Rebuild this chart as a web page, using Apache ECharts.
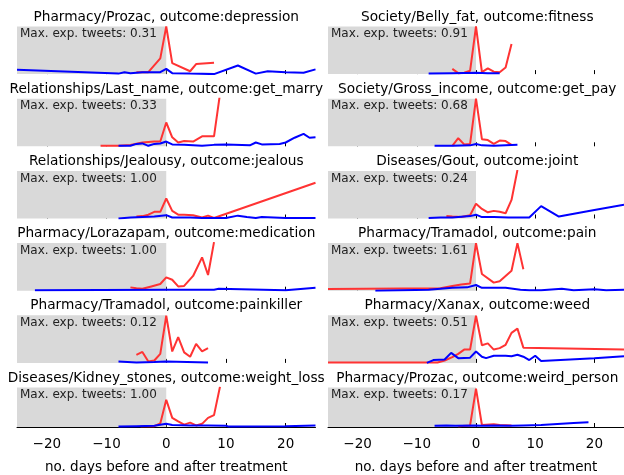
<!DOCTYPE html>
<html>
<head>
<meta charset="utf-8">
<script src="https://cdn.jsdelivr.net/npm/echarts@6/dist/echarts.min.js"></script>
<style>html,body{margin:0;padding:0;background:#fff;}#c{width:624px;height:475px;}</style>
</head>
<body>
<div id="c"></div>
<script>
// ---- data (y = fraction of each panel's max expected tweets) ----
const titles = [
  'Pharmacy/Prozac, outcome:depression', 'Society/Belly_fat, outcome:fitness',
  'Relationships/Last_name, outcome:get_marry', 'Society/Gross_income, outcome:get_pay',
  'Relationships/Jealousy, outcome:jealous', 'Diseases/Gout, outcome:joint',
  'Pharmacy/Lorazapam, outcome:medication', 'Pharmacy/Tramadol, outcome:pain',
  'Pharmacy/Tramadol, outcome:painkiller', 'Pharmacy/Xanax, outcome:weed',
  'Diseases/Kidney_stones, outcome:weight_loss', 'Pharmacy/Prozac, outcome:weird_person'
];
const maxExp = ['0.31','0.91','0.33','0.68','1.00','0.24','1.00','1.61','0.12','0.51','1.00','0.17'];
const xTicks = [-20, -10, 0, 10, 20];
const shadeRange = [-25, 0];

const depressionRed = [[-5,0.04],[-3,0.04],[-1,0.33],[0,1.0],[1,0.23],[4,0.06],[5,0.21],[8,0.24]];
const depressionBlue = [[-25,0.09],[-8,0.01],[-7,0.04],[-6,0.02],[-4,0.04],[-1,0.04],[0,0.11],[1,0.02],[4,0.01],[8,0.0],[12,0.18],[15,0.01],[17,0.06],[20,0.04],[23,0.03],[25,0.1]];
const fitnessRed = [[-4,0.11],[-3,0.02],[-2,0.03],[-1,0.07],[0,1.0],[1,0.04],[2,0.12],[3,0.05],[4,0.04],[5,0.14],[6,0.63]];
const fitnessBlue = [[-8,0.01],[-4,0.02],[0,0.03],[2,0.02],[4,0.02]];
const marryRed = [[-11,0.01],[-8,0.01],[-6,0.03],[-4,0.08],[-2,0.1],[-1,0.1],[0,0.5],[1,0.19],[2,0.08],[3,0.11],[4.5,0.1],[6,0.21],[8,0.21],[9,1.1]];
const marryBlue = [[-8,0.01],[-6,0.01],[-5,0.05],[-4,0.06],[-3,0.01],[-2,0.05],[-1,0.06],[0,0.1],[1,0.04],[3,0.03],[6,0.01],[8,0.03],[10,0.04],[14,0.02],[15,0.08],[16,0.04],[19,0.05],[20,0.08],[21.5,0.18],[23,0.26],[24,0.18],[25,0.19]];
const payRed = [[-4,0.01],[-3,0.17],[-2,0.04],[-1,0.05],[0,1.0],[1,0.15],[2,0.13],[3,0.05],[4,0.12],[5,0.11],[6,0.03]];
const payBlue = [[-7,0.01],[-4,0.01],[-1,0.02],[0,0.05],[1,0.02],[3,0.01],[5,0.02],[7,0.03]];
const jealousRed = [[-5,0.04],[-4,0.05],[-3,0.08],[-2,0.14],[-1,0.14],[0,0.42],[1,0.16],[2,0.08],[3,0.08],[4.5,0.07],[6,0.02],[7,0.06],[8,0.01],[25,0.75]];
const jealousBlue = [[-8,0.0],[-6,0.02],[-4,0.03],[-2,0.04],[0,0.07],[1,0.02],[4,0.02],[6,0.01],[10,0.01],[12,0.06],[13.5,0.03],[15,0.01],[16,0.03],[20,0.01],[22,0.01],[25,0.01]];
const jointRed = [[-5,0.05],[-4,0.04],[-2.5,0.03],[-1,0.07],[0,0.31],[1,0.2],[2,0.13],[3,0.16],[4,0.14],[5,0.11],[6,0.39],[7,1.02]];
const jointBlue = [[-8,0.01],[-6,0.02],[-4,0.02],[-1,0.05],[0,0.08],[1,0.03],[3,0.03],[5.5,0.02],[9,0.02],[11,0.26],[14,0.04],[20,0.18],[25,0.29]];
const medicationRed = [[-6,0.07],[-5,0.05],[-4,0.04],[-2.5,0.09],[-1,0.14],[0,0.28],[1,0.23],[2,0.09],[3,0.1],[4.5,0.31],[6,0.7],[7,0.33],[8,1.02]];
const medicationBlue = [[-22,0.01],[0,0.02],[8,0.02],[8.8,0.04],[20,0.01],[25,0.06]];
const painRed = [[-25,0.035],[-6,0.05],[-4,0.1],[-2.5,0.13],[-1,0.15],[0,1.0],[1,0.35],[3,0.17],[4,0.2],[6,0.42],[7,1.0],[8,0.45]];
const painBlue = [[-17,0.0],[-8,0.02],[-6,0.04],[-4,0.06],[-1.5,0.07],[0,0.12],[1,0.06],[5,0.06],[7.5,0.02],[9,0.01],[11,0.01],[14.5,0.04],[16.5,0.01],[20,0.03],[22,0.01],[25,0.02]];
const painkillerRed = [[-5,0.17],[-4,0.23],[-3,0.03],[-2,0.05],[-1,0.19],[0,0.99],[1,0.24],[2,0.54],[3,0.22],[4,0.13],[5,0.4],[6,0.24],[7,0.31]];
const painkillerBlue = [[-8,0.03],[-5,0.01],[-2,0.02],[0,0.03],[3.5,0.02],[7,0.01]];
const weedRed = [[-25,0.01],[-6.5,0.01],[-5.3,0.05],[-4,0.12],[-3,0.19],[-2,0.28],[-1,0.28],[0,0.99],[1,0.37],[2,0.41],[3,0.28],[4,0.31],[5,0.38],[6,0.63],[7,0.72],[8,0.32],[25,0.28]];
const weedBlue = [[-8.3,0],[-7.2,0.06],[-5.3,0.07],[-4.2,0.21],[-3,0.1],[-1,0.11],[0,0.24],[1,0.13],[1.7,0.1],[3,0.15],[5,0.15],[6,0.14],[7,0.17],[8,0.13],[9,0.06],[10,0.15],[11,0.04],[20,0.1],[25,0.14]];
const weightRed = [[-4.3,0.02],[-2,0.02],[-1,0.09],[0,0.69],[1,0.23],[2,0.14],[3,0.06],[4,0.11],[5,0.04],[6,0.08],[7,0.23],[8,0.3],[9,1.02]];
const weightBlue = [[-8,0.01],[-5,0.02],[-2,0.03],[0,0.08],[1,0.05],[4,0.04],[7,0.04],[10,0.03],[10.5,0.01],[20,0.02],[25,0.04]];
const weirdRed = [[-3,0.02],[-1,0.04],[0,0.97],[1,0.05],[3,0.07],[4,0.05],[6,0.04]];
const weirdBlue = [[-7,0.03],[-5,0.04],[-3.5,0.03],[0,0.04],[1,0.03],[3,0.04],[6,0.03],[8,0.04],[11,0.05],[16.5,0.1],[19,0.12]];

const redSeries = [depressionRed, fitnessRed, marryRed, payRed, jealousRed, jointRed, medicationRed, painRed, painkillerRed, weedRed, weightRed, weirdRed];
const blueSeries = [depressionBlue, fitnessBlue, marryBlue, payBlue, jealousBlue, jointBlue, medicationBlue, painBlue, painkillerBlue, weedBlue, weightBlue, weirdBlue];

// ---- layout ----
const FONT = 'DejaVu Sans';
const colLeft = [17, 328];
const colWidth = 298.5;
const rowTop0 = 26.5, rowStep = 72.2, panelH = 47.6;

const grids = [], xAxes = [], yAxes = [], series = [], titleList = [];
titles.forEach((t, i) => {
  const col = i % 2, row = Math.floor(i / 2);
  const left = colLeft[col], top = rowTop0 + rowStep * row;
  const bottomRow = row === 5;
  grids.push({left: left, top: top, width: colWidth, height: panelH});
  xAxes.push({
    type: 'value', gridIndex: i, min: -25, max: 25,
    axisLine: {show: bottomRow, onZero: false, lineStyle: {color: '#000', width: 1}},
    axisTick: {show: true, inside: true, length: 4, customValues: xTicks, lineStyle: {color: '#000', width: 1}},
    axisLabel: {show: bottomRow, customValues: xTicks, color: '#000', fontSize: 13.5, fontFamily: FONT, margin: 10,
      formatter: v => (v < 0 ? '\u2212' + Math.abs(v) : String(v))},
    splitLine: {show: false},
    name: bottomRow ? 'no. days before and after treatment' : '',
    nameLocation: 'middle', nameGap: 33,
    nameTextStyle: {color: '#000', fontSize: 13.5, fontFamily: FONT}
  });
  yAxes.push({type: 'value', gridIndex: i, min: 0, max: 1, show: false});
  titleList.push({
    text: t, left: left + colWidth / 2, top: top - 16.5, textAlign: 'center', padding: 0,
    textStyle: {color: '#000', fontSize: 13.7, fontWeight: 'normal', fontFamily: FONT}
  });
  titleList.push({
    text: 'Max. exp. tweets: ' + maxExp[i], left: left + 3, top: top + 1.5, textAlign: 'left', padding: 0,
    textStyle: {color: '#222', fontSize: 12, fontWeight: 'normal', fontFamily: FONT}
  });
  series.push({
    type: 'custom', xAxisIndex: i, yAxisIndex: i, z: 1, silent: true,
    data: [[shadeRange[0], shadeRange[1]]],
    encode: {x: [0, 1]},
    renderItem: (params, api) => {
      const p0 = api.coord([api.value(0), 1]);
      const p1 = api.coord([api.value(1), 0]);
      return {type: 'rect', shape: {x: p0[0], y: p0[1], width: p1[0] - p0[0], height: p1[1] - p0[1]},
        style: {fill: '#d9d9d9'}};
    }
  });
  series.push({
    type: 'line', xAxisIndex: i, yAxisIndex: i, z: 2, data: redSeries[i],
    symbol: 'none', clip: true, lineStyle: {color: '#ff3333', width: 2}
  });
  series.push({
    type: 'line', xAxisIndex: i, yAxisIndex: i, z: 3, data: blueSeries[i],
    symbol: 'none', clip: true, lineStyle: {color: '#0000ff', width: 2}
  });
});

const chart = echarts.init(document.getElementById('c'), null, {renderer: 'canvas'});
chart.setOption({
  animation: false,
  backgroundColor: '#fff',
  title: titleList,
  grid: grids,
  xAxis: xAxes,
  yAxis: yAxes,
  series: series
});
</script>
</body>
</html>
